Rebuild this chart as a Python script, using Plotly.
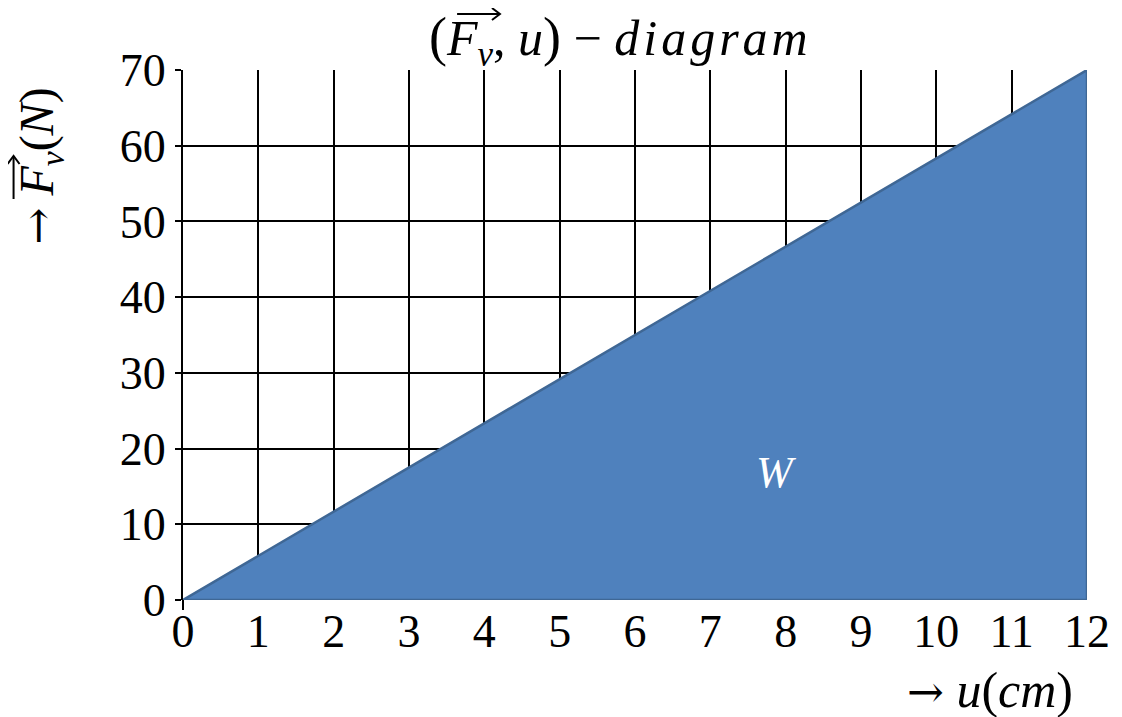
import plotly.graph_objects as go

# Data
u_cm = [0, 12]
F_N = [0, 70]
x_ticks = list(range(0, 13))
y_ticks = list(range(0, 71, 10))

FONT = "Liberation Serif"
FS = 46

# plot area in window pixels (page has an 8px body margin)
OFF = 8
PL, PR, PT, PB = 183, 1090, 70, 600
W, H = 1122 - OFF, 717 - OFF


def px(x):
    return (x - PL) / (PR - PL)


def py(y):
    return (PB - y) / (PB - PT)


ARROW = '<span style="font-family:\'DejaVu Serif\';font-size:44px">\u2192</span>'

fig = go.Figure()
fig.add_trace(go.Scatter(
    x=[u_cm[0], u_cm[1], u_cm[1], u_cm[0]],
    y=[F_N[0], F_N[1], F_N[0], F_N[0]],
    fill="toself", fillcolor="#4F81BD",
    mode="lines", line=dict(color="#3F6795", width=2.5),
    hoverinfo="skip", showlegend=False,
))

fig.update_layout(
    width=W, height=H,
    margin=dict(l=PL - OFF, r=W - (PR - OFF), t=PT - OFF, b=H - (PB - OFF)),
    paper_bgcolor="white", plot_bgcolor="white",
    font=dict(family=FONT, color="black", size=FS),
    showlegend=False,
)
fig.update_xaxes(
    range=[0, 12], tickvals=x_ticks, ticktext=[str(v) for v in x_ticks],
    showgrid=True, gridcolor="black", gridwidth=2,
    zeroline=False, showline=False, ticks="",
    tickfont=dict(family=FONT, size=FS, color="black"),
)
fig.update_yaxes(
    range=[0, 70], tickvals=y_ticks, ticktext=[str(v) for v in y_ticks],
    showgrid=True, gridcolor="black", gridwidth=2,
    zeroline=False, showline=True, linecolor="black", linewidth=2,
    ticks="outside", ticklen=6, tickcolor="black", tickwidth=2,
    tickfont=dict(family=FONT, size=FS, color="black"),
)

# title
fig.add_annotation(
    text='<span style="font-size:54px">(</span><i>F</i><sub><i>v</i></sub>, <i>u</i>'
         '<span style="font-size:54px">)</span> \u2212 '
         '<i><span style="letter-spacing:4px">diagram</span></i>',
    xref="paper", yref="paper", x=px(622), y=py(40),
    xanchor="center", yanchor="middle", showarrow=False,
    font=dict(family=FONT, size=50, color="black"))

fig.add_annotation(text="<i>W</i>", x=7.87, y=16.9, xref="x", yref="y",
                   showarrow=False, font=dict(family=FONT, size=44, color="white"))
fig.add_annotation(text=ARROW + " <i>u</i>(<i>cm</i>)", xref="paper", yref="paper",
                   x=px(1078), y=py(690), xanchor="right", yanchor="middle",
                   showarrow=False, font=dict(family=FONT, size=50, color="black"))
fig.add_annotation(text=ARROW + " <i>F</i><sub><i>v</i></sub>(<i>N</i>)",
                   xref="paper", yref="paper", x=px(40), y=py(166),
                   textangle=-90, showarrow=False, xanchor="center", yanchor="middle",
                   font=dict(family=FONT, size=48, color="black"))

# vector arrows drawn over F_v (title and y title), plus axis stub below 0
line = dict(color="black", width=2)
shapes = [
    dict(type="line", xref="paper", yref="paper", x0=px(458), x1=px(501), y0=py(14), y1=py(14), line=line),
    dict(type="path", xref="paper", yref="paper",
         path=f"M {px(493)} {py(8)} L {px(501)} {py(14)} L {px(493)} {py(20)}", line=line),
    dict(type="line", xref="paper", yref="paper", x0=px(13), x1=px(13), y0=py(199), y1=py(156), line=line),
    dict(type="path", xref="paper", yref="paper",
         path=f"M {px(7)} {py(164)} L {px(13)} {py(156)} L {px(19)} {py(164)}", line=line),
    dict(type="line", xref="paper", yref="paper", x0=0, x1=0, y0=0, y1=py(610), line=line),
]
fig.update_layout(shapes=shapes)

fig.write_html("out.html")
